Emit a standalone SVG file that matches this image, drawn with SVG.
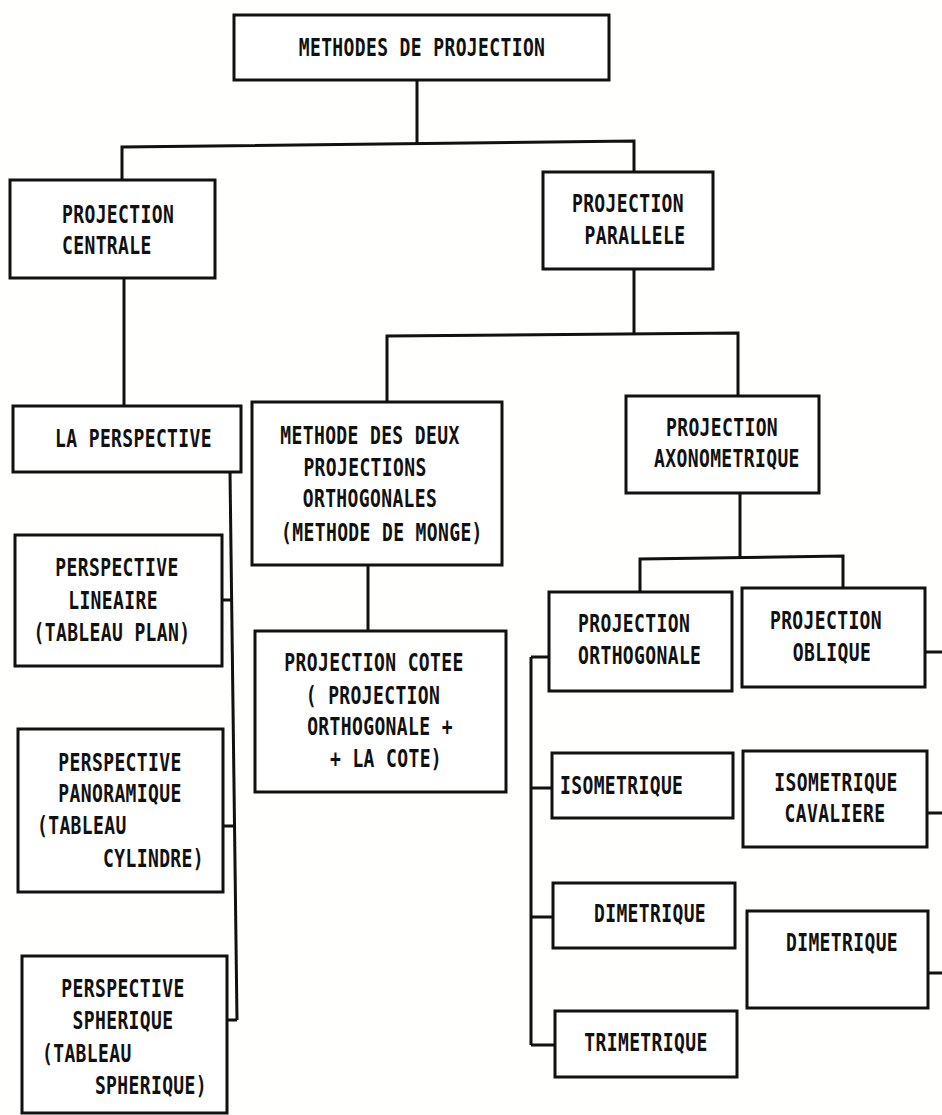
<svg xmlns="http://www.w3.org/2000/svg" width="942" height="1115" viewBox="0 0 942 1115">
<style>
.bg{fill:#fffffe}
.box{fill:#ffffff;stroke:#111;stroke-width:3}
.ln{fill:none;stroke:#111;stroke-width:3}
.t{font-family:"DejaVu Sans Mono","Liberation Mono",monospace;font-weight:bold;font-size:24px;fill:#111;letter-spacing:0.5px}
.m{text-anchor:middle}
.s{text-anchor:start}
.e{text-anchor:end}
</style>
<rect class="bg" x="0" y="0" width="942" height="1115"/>
<g id="connectors">
<path class="ln" d="M417,80 V144"/>
<path class="ln" d="M122,180 V147 L634,141 V172"/>
<path class="ln" d="M124,278 V406"/>
<path class="ln" d="M634,269 V334"/>
<path class="ln" d="M387,402 V336 L738,333 V396"/>
<path class="ln" d="M368,565 V631"/>
<path class="ln" d="M740,493 V557"/>
<path class="ln" d="M640,592 V559 L843,556 V588"/>
<path class="ln" d="M531,657 V1045"/>
<path class="ln" d="M531,657 H549 M531,788 H552 M531,917 H553 M531,1045 H555"/>
<path class="ln" d="M230,472 L237,1020"/>
<path class="ln" d="M222,600 H233 M223,826 H235 M227,1020 H237"/>
<path class="ln" d="M925,652 H942 M927,813 H942 M928,973 H942"/>
</g>
<g id="n-methodes">
<rect class="box" x="234" y="15" width="375" height="65"/>
<text class="t m" transform="scale(0.75 1)" x="562.7" y="56">METHODES DE PROJECTION</text>
</g>
<g id="n-centrale">
<rect class="box" x="10" y="180" width="205" height="98"/>
<text class="t s" transform="scale(0.75 1)" y="223"><tspan x="82.7">PROJECTION</tspan><tspan x="82.7" y="254">CENTRALE</tspan></text>
</g>
<g id="n-parallele">
<rect class="box" x="543" y="172" width="170" height="97"/>
<text class="t m" transform="scale(0.75 1)" y="212"><tspan x="837.3">PROJECTION</tspan><tspan x="846.7" y="244">PARALLELE</tspan></text>
</g>
<g id="n-laperspective">
<rect class="box" x="13" y="406" width="228" height="66"/>
<text class="t m" transform="scale(0.75 1)" x="178" y="447">LA PERSPECTIVE</text>
</g>
<g id="n-methode-monge">
<rect class="box" x="252" y="402" width="250" height="163"/>
<text class="t m" transform="scale(0.75 1)" y="444"><tspan x="493.3">METHODE DES DEUX</tspan><tspan x="486.7" y="476">PROJECTIONS</tspan><tspan x="493.3" y="507">ORTHOGONALES</tspan><tspan x="509.3" y="541">(METHODE DE MONGE)</tspan></text>
</g>
<g id="n-cotee">
<rect class="box" x="255" y="631" width="251" height="161"/>
<text class="t m" transform="scale(0.75 1)" y="671"><tspan x="498.7">PROJECTION COTEE</tspan><tspan x="497.3" y="704">( PROJECTION</tspan><tspan x="506.7" y="735">ORTHOGONALE +</tspan><tspan x="514.7" y="767">+ LA COTE)</tspan></text>
</g>
<g id="n-axono">
<rect class="box" x="626" y="396" width="193" height="97"/>
<text class="t m" transform="scale(0.75 1)" y="436"><tspan x="962.7">PROJECTION</tspan><tspan x="969.3" y="467">AXONOMETRIQUE</tspan></text>
</g>
<g id="n-ortho">
<rect class="box" x="549" y="592" width="183" height="99"/>
<text class="t s" transform="scale(0.75 1)" y="632"><tspan x="770.7">PROJECTION</tspan><tspan x="770.7" y="664">ORTHOGONALE</tspan></text>
</g>
<g id="n-oblique">
<rect class="box" x="742" y="588" width="183" height="99"/>
<text class="t m" transform="scale(0.75 1)" y="629"><tspan x="1101.3">PROJECTION</tspan><tspan x="1109.3" y="661">OBLIQUE</tspan></text>
</g>
<g id="n-iso">
<rect class="box" x="552" y="753" width="181" height="65"/>
<text class="t s" transform="scale(0.75 1)" x="746.7" y="794">ISOMETRIQUE</text>
</g>
<g id="n-isocav">
<rect class="box" x="743" y="751" width="184" height="96"/>
<text class="t m" transform="scale(0.75 1)" y="791"><tspan x="1114.7">ISOMETRIQUE</tspan><tspan x="1113.3" y="822">CAVALIERE</tspan></text>
</g>
<g id="n-dim-left">
<rect class="box" x="553" y="883" width="182" height="65"/>
<text class="t m" transform="scale(0.75 1)" x="866.7" y="922">DIMETRIQUE</text>
</g>
<g id="n-dim-right">
<rect class="box" x="747" y="911" width="181" height="97"/>
<text class="t m" transform="scale(0.75 1)" x="1122.7" y="951">DIMETRIQUE</text>
</g>
<g id="n-tri">
<rect class="box" x="555" y="1011" width="182" height="66"/>
<text class="t m" transform="scale(0.75 1)" x="861.3" y="1051">TRIMETRIQUE</text>
</g>
<g id="n-lineaire">
<rect class="box" x="15" y="535" width="207" height="131"/>
<text class="t m" transform="scale(0.75 1)" y="576"><tspan x="156">PERSPECTIVE</tspan><tspan x="150.7" y="609">LINEAIRE</tspan><tspan x="149.3" y="641">(TABLEAU PLAN)</tspan></text>
</g>
<g id="n-panoramique">
<rect class="box" x="18" y="729" width="205" height="163"/>
<text class="t" transform="scale(0.75 1)" y="771"><tspan class="m" x="160">PERSPECTIVE</tspan><tspan class="m" x="160" y="802">PANORAMIQUE</tspan><tspan class="s" x="49.3" y="834">(TABLEAU</tspan><tspan class="e" x="272" y="867">CYLINDRE)</tspan></text>
</g>
<g id="n-spherique">
<rect class="box" x="22" y="956" width="205" height="157"/>
<text class="t" transform="scale(0.75 1)" y="997"><tspan class="m" x="164">PERSPECTIVE</tspan><tspan class="m" x="164" y="1029">SPHERIQUE</tspan><tspan class="s" x="56" y="1062">(TABLEAU</tspan><tspan class="e" x="276" y="1094">SPHERIQUE)</tspan></text>
</g>
</svg>
